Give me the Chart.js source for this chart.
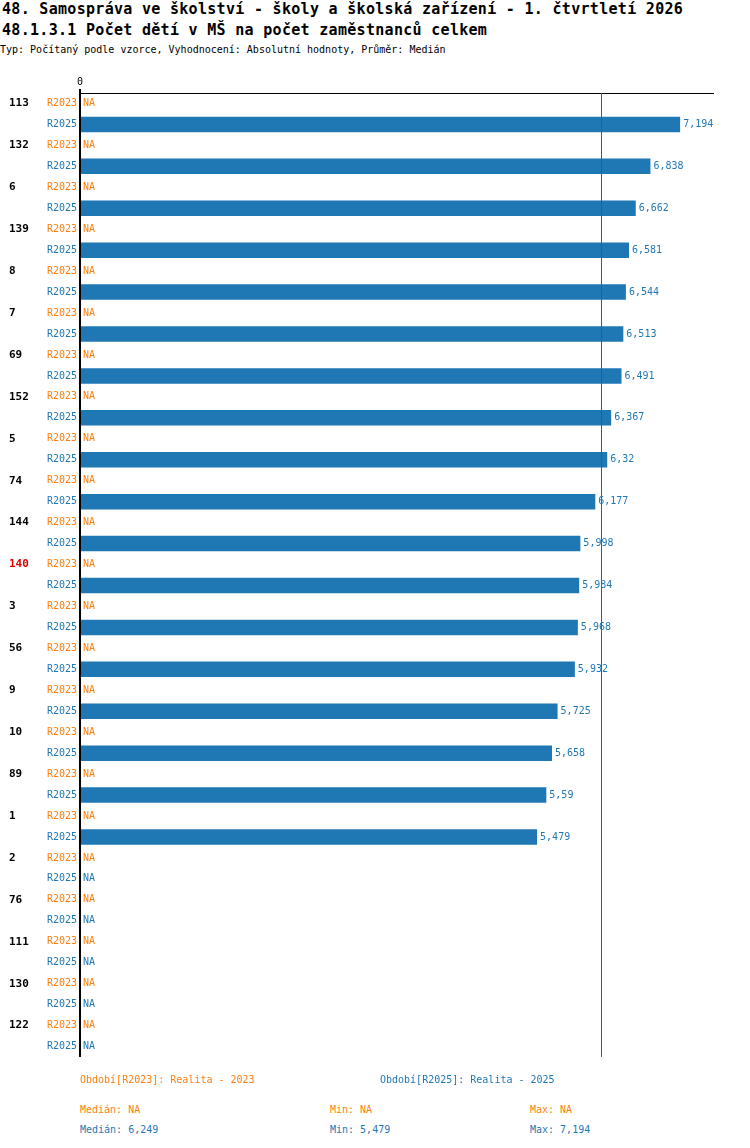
<!DOCTYPE html>
<html lang="cs">
<head>
<meta charset="UTF-8">
<title>48.1.3.1 Počet dětí v MŠ na počet zaměstnanců celkem</title>
<script src="https://cdn.jsdelivr.net/npm/chart.js"></script>
<style>
  body { margin: 0; width: 750px; height: 1148px; position: relative; background: #fff; font-family: "DejaVu Sans Mono", monospace; }
  h1 { position: absolute; left: 2px; margin: 0; font-size: 15px; font-weight: bold; letter-spacing: 0.3px; }
  #t1 { top: 0; } #t2 { top: 21px; }
  #sub { position: absolute; left: 0; top: 44px; font-size: 10px; }
  #wrap { position: absolute; left: 0; top: 75px; width: 750px; height: 1000px; }
  .f { position: absolute; font-size: 10px; }
  .o { color: #ff7f0e; } .b { color: #1f77b4; }
</style>
</head>
<body>
<h1 id="t1">48. Samospráva ve školství - školy a školská zařízení - 1. čtvrtletí 2026</h1>
<h1 id="t2">48.1.3.1 Počet dětí v MŠ na počet zaměstnanců celkem</h1>
<div id="sub">Typ: Počítaný podle vzorce, Vyhodnocení: Absolutní hodnoty, Průměr: Medián</div>
<div id="wrap"><canvas id="c"></canvas></div>
<div class="f o" style="left:80px;top:1074px">Období[R2023]: Realita - 2023</div>
<div class="f b" style="left:380px;top:1074px">Období[R2025]: Realita - 2025</div>
<div class="f o" style="left:80px;top:1104px">Medián: NA</div>
<div class="f o" style="left:330px;top:1104px">Min: NA</div>
<div class="f o" style="left:530px;top:1104px">Max: NA</div>
<div class="f b" style="left:80px;top:1124px">Medián: 6,249</div>
<div class="f b" style="left:330px;top:1124px">Min: 5,479</div>
<div class="f b" style="left:530px;top:1124px">Max: 7,194</div>
<script>
const groups = ['113','132','6','139','8','7','69','152','5','74','144','140','3','56','9','10','89','1','2','76','111','130','122'].slice(0, 22);
// 22 groups in reference
const groupIds = ['113','132','6','139','8','7','69','152','5','74','144','140','3','56','9','10','89','1','2','76','111','130','122'];
const periods = ['R2023', 'R2025'];
const r2023 = groupIds.map(() => null);
const r2025 = [7.194, 6.838, 6.662, 6.581, 6.544, 6.513, 6.491, 6.367, 6.32, 6.177, 5.998, 5.984, 5.968, 5.932, 5.725, 5.658, 5.59, 5.479, null, null, null, null, null];
const highlight = '140';
const median2025 = 6.249;
const ORANGE = '#ff7f0e', BLUE = '#1f77b4';

const ids = groupIds.filter(g => g !== '2' || true);
const labels = [], values = [], colors = [];
ids.forEach((g, i) => {
  labels.push(g + '|R2023'); values.push(r2023[i]); colors.push(ORANGE);
  labels.push(g + '|R2025'); values.push(r2025[i]); colors.push(BLUE);
});

const fmt = v => String(v).replace('.', ',');
const FONT = '10px "DejaVu Sans Mono", monospace';

const overlay = {
  id: 'overlay',
  afterDatasetsDraw(chart) {
    const { ctx, chartArea: a, scales: { x, y } } = chart;
    ctx.save();
    // top border and median line
    ctx.strokeStyle = '#000'; ctx.lineWidth = 1;
    ctx.beginPath(); ctx.moveTo(a.left, a.top + 0.5); ctx.lineTo(a.right, a.top + 0.5); ctx.stroke();
    const mx = Math.round(x.getPixelForValue(median2025)) + 0.5;
    ctx.strokeStyle = '#555';
    ctx.beginPath(); ctx.moveTo(mx, a.top); ctx.lineTo(mx, a.bottom); ctx.stroke();
    ctx.strokeStyle = '#000'; ctx.lineWidth = 2;
    ctx.beginPath(); ctx.moveTo(a.left, a.top - 4); ctx.lineTo(a.left, a.bottom); ctx.stroke();
    ctx.font = FONT; ctx.textBaseline = 'middle';
    ctx.fillStyle = '#000'; ctx.textAlign = 'center';
    ctx.fillText('0', a.left, a.top - 11);
    labels.forEach((l, i) => {
      const [g, p] = l.split('|');
      const yy = y.getPixelForValue(i);
      ctx.textAlign = 'right'; ctx.fillStyle = colors[i];
      ctx.font = FONT;
      ctx.fillText(p, a.left - 3, yy);
      if (p === 'R2023') {
        ctx.font = 'bold 11px "DejaVu Sans Mono", monospace';
        ctx.fillStyle = g === highlight ? '#e00000' : '#000';
        ctx.textAlign = 'left';
        ctx.fillText(g, 9, yy);
      }
      ctx.font = FONT; ctx.textAlign = 'left'; ctx.fillStyle = colors[i];
      if (values[i] == null) ctx.fillText('NA', a.left + 3, yy);
      else ctx.fillText(fmt(values[i]), x.getPixelForValue(values[i]) + 3, yy);
    });
    ctx.restore();
  }
};

new Chart(document.getElementById('c'), {
  type: 'bar',
  data: { labels, datasets: [{ data: values, backgroundColor: colors, categoryPercentage: 1, barPercentage: 0.74 }] },
  options: {
    indexAxis: 'y',
    responsive: true, maintainAspectRatio: false, animation: false,
    layout: { padding: { left: 80, right: 36, top: 18, bottom: 18 } },
    scales: {
      x: { display: false, min: 0, max: 7.6 },
      y: { display: false }
    },
    plugins: { legend: { display: false }, tooltip: { enabled: false } }
  },
  plugins: [overlay]
});
</script>
</body>
</html>
